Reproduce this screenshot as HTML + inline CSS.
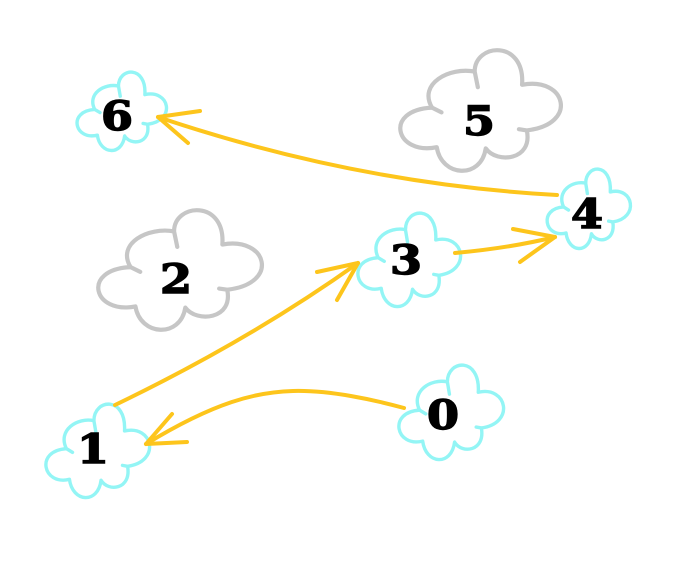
<!DOCTYPE html>
<html><head><meta charset="utf-8"><style>
html,body{margin:0;padding:0;background:#fff;}
svg{display:block;}
text{font-family:"DejaVu Serif","Liberation Serif",serif;font-weight:bold;font-size:40px;fill:#000;stroke:#000;stroke-width:1.4px;}
</style></head><body>
<svg width="696" height="564" viewBox="0 0 696 564" xmlns="http://www.w3.org/2000/svg">
<rect width="696" height="564" fill="#fff"/>
<g fill="#fff" stroke-linecap="round" stroke-linejoin="round">
<path transform="translate(78,72) scale(0.88,0.78)" vector-effect="non-scaling-stroke" stroke="#93f5f5" stroke-width="3.4" d="M46,18 C46,-6 78,-9 76,29 C104,22 112,62 79,67 C83,92 60,95 53,82 C50,108 25,106 22,81 C-4,88 -12,50 19,48 C10,28 30,14 46,18 Z M46,18 L48,31 M19,48 L25,52 M79,67 L74,66"/>
<path transform="translate(402,50) scale(1.58,1.2)" vector-effect="non-scaling-stroke" stroke="#c6c6c6" stroke-width="4.2" d="M46,18 C46,-6 78,-9 76,29 C104,22 112,62 79,67 C83,92 60,95 53,82 C50,108 25,106 22,81 C-4,88 -12,50 19,48 C10,28 30,14 46,18 Z M46,18 L48,31 M19,48 L25,52 M79,67 L74,66"/>
<path transform="translate(548,169) scale(0.82,0.79)" vector-effect="non-scaling-stroke" stroke="#93f5f5" stroke-width="3.4" d="M46,18 C46,-6 78,-9 76,29 C104,22 112,62 79,67 C83,92 60,95 53,82 C50,108 25,106 22,81 C-4,88 -12,50 19,48 C10,28 30,14 46,18 Z M46,18 L48,31 M19,48 L25,52 M79,67 L74,66"/>
<path transform="translate(100,210) scale(1.61,1.19)" vector-effect="non-scaling-stroke" stroke="#c6c6c6" stroke-width="4.2" d="M46,18 C46,-6 78,-9 76,29 C104,22 112,62 79,67 C83,92 60,95 53,82 C50,108 25,106 22,81 C-4,88 -12,50 19,48 C10,28 30,14 46,18 Z M46,18 L48,31 M19,48 L25,52 M79,67 L74,66"/>
<path transform="translate(359,213) scale(1.01,0.93)" vector-effect="non-scaling-stroke" stroke="#93f5f5" stroke-width="3.4" d="M46,18 C46,-6 78,-9 76,29 C104,22 112,62 79,67 C83,92 60,95 53,82 C50,108 25,106 22,81 C-4,88 -12,50 19,48 C10,28 30,14 46,18 Z M46,18 L48,31 M19,48 L25,52 M79,67 L74,66"/>
<path transform="translate(400,365) scale(1.03,0.94)" vector-effect="non-scaling-stroke" stroke="#93f5f5" stroke-width="3.4" d="M46,18 C46,-6 78,-9 76,29 C104,22 112,62 79,67 C83,92 60,95 53,82 C50,108 25,106 22,81 C-4,88 -12,50 19,48 C10,28 30,14 46,18 Z M46,18 L48,31 M19,48 L25,52 M79,67 L74,66"/>
<path transform="translate(47,404) scale(1.02,0.93)" vector-effect="non-scaling-stroke" stroke="#93f5f5" stroke-width="3.4" d="M46,18 C46,-6 78,-9 76,29 C104,22 112,62 79,67 C83,92 60,95 53,82 C50,108 25,106 22,81 C-4,88 -12,50 19,48 C10,28 30,14 46,18 Z M46,18 L48,31 M19,48 L25,52 M79,67 L74,66"/>
</g>
<g fill="none" stroke="#fdc51c" stroke-width="4" stroke-linecap="round" stroke-linejoin="round">
<path d="M557,195 Q357,184 158,117"/>
<path d="M158,117 L200,111 M158,117 L188,143"/>
<path d="M455,253 Q510,248 555,237"/>
<path d="M555,237 L513,229 M555,237 L520,262"/>
<path d="M115,405 Q250,340 358,263"/>
<path d="M358,263 L317,272 M358,263 L337,300"/>
<path d="M404,408 C375,400 330,390 293,391 S215,402 146,444"/>
<path d="M146,444 L172,414 M146,444 L187,442"/>
</g>
<g text-anchor="middle">
<text transform="translate(117,130) scale(1.15,1)">6</text>
<text transform="translate(479,135) scale(1.15,1)">5</text>
<text transform="translate(587,228) scale(1.15,1)">4</text>
<text transform="translate(176,293) scale(1.15,1)">2</text>
<text transform="translate(406,274) scale(1.15,1)">3</text>
<text transform="translate(443,429) scale(1.15,1)">0</text>
<text transform="translate(93,463) scale(1.15,1)">1</text>
</g>
</svg>
</body></html>
